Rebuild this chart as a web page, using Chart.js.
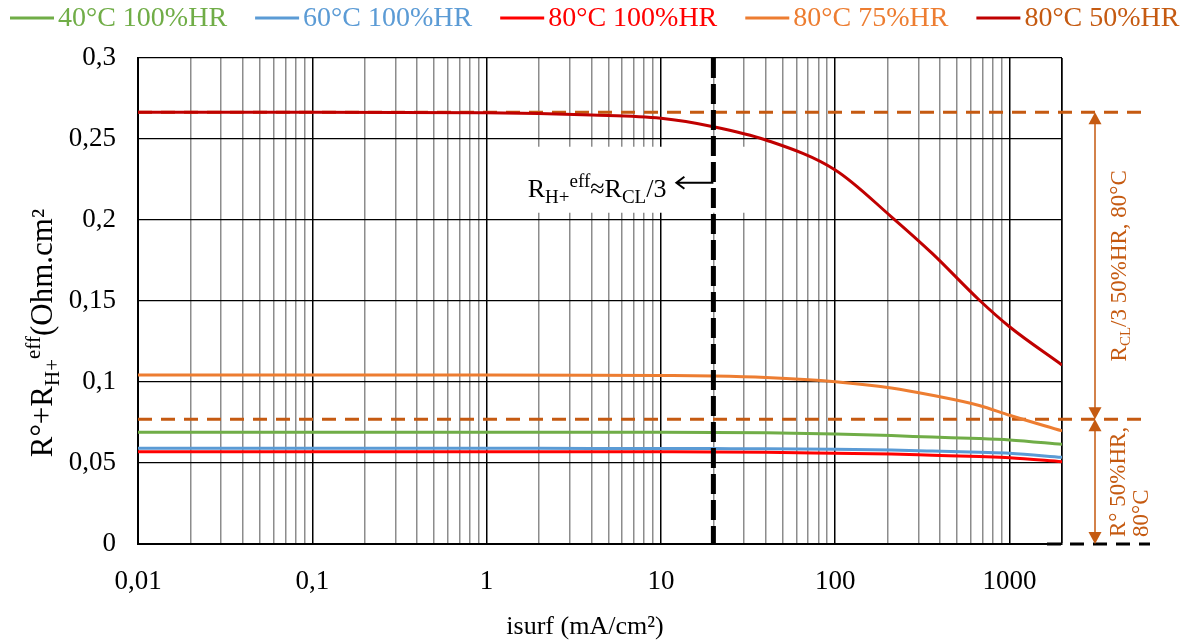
<!DOCTYPE html>
<html>
<head>
<meta charset="utf-8">
<script src="https://cdn.jsdelivr.net/npm/chart.js@4.4.1/dist/chart.umd.min.js"></script>
<style>
  html, body { margin: 0; padding: 0; background: #fff; }
  canvas { display: block; }
</style>
</head>
<body>
<canvas id="chart" width="1187" height="642"></canvas>
<script>
// current density (mA/cm2) where the curves were read
const isurf = [0.01, 0.1, 1, 4, 10, 20, 40, 100, 210, 360, 670, 1000, 2000];

// R° + RH+eff (Ohm.cm2)
const t40_hr100 = [0.069, 0.069, 0.069, 0.069, 0.069, 0.0689, 0.0686, 0.0679, 0.0669, 0.066, 0.0651, 0.0642, 0.0615];
const t60_hr100 = [0.0591, 0.0591, 0.0591, 0.059, 0.059, 0.0589, 0.0588, 0.0585, 0.058, 0.0574, 0.0566, 0.056, 0.0535];
const t80_hr100 = [0.057, 0.057, 0.057, 0.057, 0.0569, 0.0568, 0.0566, 0.056, 0.0555, 0.0548, 0.054, 0.0533, 0.0508];
const t80_hr75 = [0.1043, 0.1043, 0.1043, 0.1042, 0.104, 0.1037, 0.1028, 0.1002, 0.0963, 0.0918, 0.0855, 0.0795, 0.0698];
const t80_hr50 = [0.2665, 0.2665, 0.2662, 0.2648, 0.2628, 0.2576, 0.2494, 0.2309, 0.202, 0.1794, 0.1506, 0.1341, 0.1105];

const seriesNames = ['40°C 100%HR', '60°C 100%HR', '80°C 100%HR', '80°C 75%HR', '80°C 50%HR'];

// axis ticks
const xMajorTicks = [0.01, 0.1, 1, 10, 100, 1000];
const xTickLabels = ['0,01', '0,1', '1', '10', '100', '1000'];
const yTicks = [0, 0.05, 0.1, 0.15, 0.2, 0.25, 0.3];
const yTickLabels = ['0', '0,05', '0,1', '0,15', '0,2', '0,25', '0,3'];

// annotation values
const rclLevel = 0.2665;   // R° + RCL/3 at 50%HR 80°C
const roLevel = 0.077;     // R° at 50%HR 80°C
const isurfLimit = 20;     // RH+eff ≈ RCL/3
const labelLevel = 0.223;

const FONT = '"Liberation Serif", "DejaVu Serif", serif';
const lineColors = ['#70AD47', '#5B9BD5', '#FF0000', '#ED7D31', '#C00000'];
const textColors = ['#70AD47', '#5B9BD5', '#FF0000', '#ED7D31', '#C55A11'];
const brown = '#C55A11';

const allSeries = [t40_hr100, t60_hr100, t80_hr100, t80_hr75, t80_hr50];

// every gridline: 1..9 per decade, plus the right end
const xGridTicks = [];
xMajorTicks.forEach(d => {
    for (let k = 1; k <= 9; k++) {
        const v = +(d * k).toPrecision(3);
        if (v <= 2000) xGridTicks.push(v);
    }
});
xGridTicks.push(2000);

function isMajor(v) {
    return v === 2000 || xMajorTicks.some(m => Math.abs(m - v) / m < 1e-6);
}

function richWidth(ctx, segs) {
    let w = 0;
    segs.forEach(s => {
        ctx.font = s.size + 'px ' + FONT;
        w += ctx.measureText(s.t).width;
    });
    return w;
}

function drawRich(ctx, segs, x, y, align) {
    const w = richWidth(ctx, segs);
    let cx = align === 'center' ? x - w / 2 : (align === 'right' ? x - w : x);
    ctx.textAlign = 'left';
    ctx.textBaseline = 'alphabetic';
    segs.forEach(s => {
        ctx.font = s.size + 'px ' + FONT;
        ctx.fillText(s.t, cx, y + (s.dy || 0));
        cx += ctx.measureText(s.t).width;
    });
}

function arrowHead(ctx, x, y, dir) {
    // dir = -1 points up, 1 points down
    ctx.beginPath();
    ctx.moveTo(x, y);
    ctx.lineTo(x - 6.5, y - dir * 12);
    ctx.lineTo(x + 6.5, y - dir * 12);
    ctx.closePath();
    ctx.fill();
}

const decorations = {
    id: 'decorations',
    beforeDatasetsDraw(chart) {
        const { ctx, chartArea: area, scales: { x, y } } = chart;
        const vx = x.getPixelForValue(isurfLimit);
        const ay = y.getPixelForValue(labelLevel);
        const yTop = y.getPixelForValue(rclLevel);
        const yMid = y.getPixelForValue(roLevel);
        const endX = area.right + 88;
        ctx.save();
        ctx.fillStyle = '#fff';
        ctx.fillRect(vx - 224, ay - 36, 262, 66);

        // horizontal dashed reference levels, under the curves
        ctx.lineWidth = 3;
        ctx.setLineDash([14, 9]);
        ctx.strokeStyle = brown;
        ctx.beginPath();
        ctx.moveTo(area.left, yTop);
        ctx.lineTo(endX, yTop);
        ctx.moveTo(area.left, yMid);
        ctx.lineTo(endX, yMid);
        ctx.stroke();
        ctx.restore();
    },
    afterDatasetsDraw(chart) {
        const { ctx, chartArea: area, scales: { x, y } } = chart;
        const vx = x.getPixelForValue(isurfLimit);
        const yTop = y.getPixelForValue(rclLevel);
        const yMid = y.getPixelForValue(roLevel);
        const yZero = y.getPixelForValue(0);
        const endX = area.right + 88;
        const arrowX = area.right + 33;
        ctx.save();

        ctx.lineWidth = 3;
        ctx.setLineDash([14, 9]);
        ctx.strokeStyle = '#000';
        ctx.beginPath();
        ctx.moveTo(area.right - 15, yZero);
        ctx.lineTo(endX, yZero);
        ctx.stroke();

        // vertical dashed line at isurf = 20
        ctx.lineWidth = 5;
        ctx.setLineDash([20, 6]);
        ctx.beginPath();
        ctx.moveTo(vx, area.top);
        ctx.lineTo(vx, area.bottom);
        ctx.stroke();
        ctx.setLineDash([]);

        // label with arrow
        const ay = y.getPixelForValue(labelLevel);
        ctx.lineWidth = 2;
        ctx.beginPath();
        ctx.moveTo(vx, ay);
        ctx.lineTo(vx - 37, ay);
        ctx.moveTo(vx - 29, ay - 6);
        ctx.lineTo(vx - 37, ay);
        ctx.lineTo(vx - 29, ay + 6);
        ctx.stroke();
        ctx.fillStyle = '#000';
        drawRich(ctx, [
            { t: 'R', size: 26 },
            { t: 'H+', size: 19, dy: 6 },
            { t: 'eff', size: 19, dy: -10 },
            { t: '≈R', size: 26 },
            { t: 'CL', size: 19, dy: 6 },
            { t: '/3', size: 26 }
        ], vx - 47, ay + 14, 'right');

        // double arrows on the right
        ctx.strokeStyle = brown;
        ctx.fillStyle = brown;
        ctx.lineWidth = 1.5;
        ctx.beginPath();
        ctx.moveTo(arrowX, yTop + 6);
        ctx.lineTo(arrowX, yMid - 6);
        ctx.moveTo(arrowX, yMid + 6);
        ctx.lineTo(arrowX, yZero - 6);
        ctx.stroke();
        arrowHead(ctx, arrowX, yTop, -1);
        arrowHead(ctx, arrowX, yMid, 1);
        arrowHead(ctx, arrowX, yMid, -1);
        arrowHead(ctx, arrowX, yZero, 1);

        ctx.save();
        ctx.translate(arrowX + 23, (yTop + yMid) / 2);
        ctx.rotate(-Math.PI / 2);
        drawRich(ctx, [
            { t: 'R', size: 23 },
            { t: 'CL', size: 15, dy: 4 },
            { t: '/3 50%HR, 80°C', size: 23 }
        ], 0, 8, 'center');
        ctx.restore();

        ctx.save();
        ctx.translate(arrowX + 22, yZero - 7);
        ctx.rotate(-Math.PI / 2);
        drawRich(ctx, [{ t: 'R° 50%HR,', size: 23 }], 0, 8, 'left');
        drawRich(ctx, [{ t: '80°C', size: 23 }], 0, 31, 'left');
        ctx.restore();

        ctx.restore();
    },
    afterDraw(chart) {
        const { ctx, chartArea: area } = chart;
        ctx.save();

        // legend
        let lx = 10;
        const ly = 18;
        chart.data.datasets.forEach((ds, i) => {
            ctx.strokeStyle = lineColors[i];
            ctx.lineWidth = 3;
            ctx.beginPath();
            ctx.moveTo(lx, ly);
            ctx.lineTo(lx + 44, ly);
            ctx.stroke();
            ctx.fillStyle = textColors[i];
            ctx.font = '28px ' + FONT;
            ctx.textAlign = 'left';
            ctx.textBaseline = 'middle';
            ctx.fillText(ds.label, lx + 48, ly + 1);
            lx += 48 + ctx.measureText(ds.label).width + 28;
        });

        // axis titles
        ctx.fillStyle = '#000';
        ctx.font = '26px ' + FONT;
        ctx.textAlign = 'center';
        ctx.textBaseline = 'alphabetic';
        ctx.fillText('isurf (mA/cm²)', (area.left + area.right) / 2 - 15, 634);

        ctx.save();
        ctx.translate(42, (area.top + area.bottom) / 2 + 32);
        ctx.rotate(-Math.PI / 2);
        drawRich(ctx, [
            { t: 'R°+R', size: 31 },
            { t: 'H+', size: 21, dy: 7 },
            { t: 'eff', size: 21, dy: -12 },
            { t: '(Ohm.cm²', size: 31 }
        ], 0, 10, 'center');
        ctx.restore();

        ctx.restore();
    }
};

const ctx = document.getElementById('chart').getContext('2d');
const chart = new Chart(ctx, {
    type: 'line',
    data: {
        datasets: allSeries.map((vals, i) => ({
            label: seriesNames[i],
            data: isurf.map((v, j) => ({ x: v, y: vals[j] })),
            borderColor: lineColors[i],
            backgroundColor: lineColors[i],
            borderWidth: 3,
            pointRadius: 0,
            cubicInterpolationMode: 'monotone',
            fill: false
        }))
    },
    options: {
        responsive: false,
        animation: false,
        devicePixelRatio: 1,
        layout: { padding: { left: 0, right: 125, top: 58, bottom: 0 } },
        plugins: {
            legend: { display: false },
            tooltip: { enabled: false }
        },
        scales: {
            x: {
                type: 'logarithmic',
                min: 0.01,
                max: 2000,
                afterBuildTicks: (scale) => {
                    scale.ticks = xGridTicks.map(v => ({ value: v, major: isMajor(v) }));
                },
                afterFit: (scale) => { scale.height = 98; },
                border: { color: '#000', width: 2 },
                grid: {
                    drawTicks: false,
                    color: (c) => (c.tick && isMajor(c.tick.value)) ? '#000' : '#8c8c8c',
                    lineWidth: 1.5
                },
                ticks: {
                    autoSkip: false,
                    maxRotation: 0,
                    padding: 22,
                    color: '#000',
                    font: { family: FONT, size: 27 },
                    callback: (value) => {
                        const idx = xMajorTicks.findIndex(m => Math.abs(m - value) / m < 1e-6);
                        return idx >= 0 ? xTickLabels[idx] : '';
                    }
                }
            },
            y: {
                min: 0,
                max: 0.3,
                afterBuildTicks: (scale) => {
                    scale.ticks = yTicks.map(v => ({ value: v }));
                },
                afterFit: (scale) => { scale.width = 138; },
                border: { color: '#000', width: 2 },
                grid: { drawTicks: false, color: '#000', lineWidth: 1.3 },
                ticks: {
                    padding: 22,
                    color: '#000',
                    font: { family: FONT, size: 27 },
                    callback: (value) => {
                        const idx = yTicks.findIndex(t => Math.abs(t - value) < 1e-9);
                        return idx >= 0 ? yTickLabels[idx] : '';
                    }
                }
            }
        }
    },
    plugins: [decorations]
});
</script>
</body>
</html>
